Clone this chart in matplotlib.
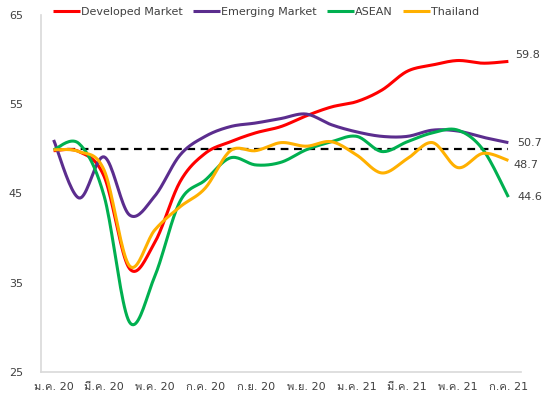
import matplotlib
matplotlib.use("Agg")
import matplotlib.pyplot as plt
from matplotlib import font_manager
from matplotlib.ft2font import FT2Font
import numpy as np

# look for an installed font that has thai glyphs
thai_family = None
for path in sorted(font_manager.findSystemFonts()):
    try:
        f = FT2Font(path)
        if f.get_char_index(0x0E01) and f.get_char_index(0x0E04):
            font_manager.fontManager.addfont(path)
            thai_family = font_manager.FontProperties(fname=path).get_name()
            break
    except Exception:
        continue
families = ['DejaVu Sans']
if thai_family:
    families = families + [thai_family]
plt.rcParams['font.family'] = families

months = ["ม.ค. 20", "ก.พ. 20", "มี.ค. 20", "เม.ย. 20", "พ.ค. 20", "มิ.ย. 20", "ก.ค. 20",
          "ส.ค. 20", "ก.ย. 20", "ต.ค. 20", "พ.ย. 20", "ธ.ค. 20", "ม.ค. 21", "ก.พ. 21",
          "มี.ค. 21", "เม.ย. 21", "พ.ค. 21", "มิ.ย. 21", "ก.ค. 21"]
developed = [49.8, 49.7, 46.9, 36.6, 39.5, 46.3, 49.5, 50.8, 51.8, 52.5, 53.7,
             54.7, 55.3, 56.6, 58.7, 59.4, 59.9, 59.6, 59.8]
emerging = [51.0, 44.5, 49.1, 42.6, 44.7, 49.3, 51.4, 52.5, 52.9, 53.4, 53.9,
            52.7, 51.9, 51.4, 51.4, 52.1, 52.0, 51.3, 50.7]
asean = [49.9, 50.6, 44.7, 30.6, 35.7, 44.1, 46.5, 49.0, 48.2, 48.5, 49.9,
         50.8, 51.4, 49.7, 50.8, 51.8, 52.1, 49.9, 44.6]
thailand = [49.9, 49.7, 47.6, 36.9, 40.9, 43.5, 45.6, 49.8, 49.8, 50.7, 50.3,
            50.8, 49.3, 47.3, 48.9, 50.7, 47.9, 49.5, 48.7]
threshold = 50
yticks = [25, 35, 45, 55, 65]


def smooth(x, y, n=20):
    # excel-style smoothed line (catmull-rom bezier)
    x = np.asarray(x, float)
    y = np.asarray(y, float)
    px = np.concatenate([[x[0]], x, [x[-1]]])
    py = np.concatenate([[y[0]], y, [y[-1]]])
    xs, ys = [], []
    t = np.linspace(0, 1, n, endpoint=False)
    for i in range(1, len(px) - 2):
        p0 = np.array([px[i], py[i]])
        p3 = np.array([px[i + 1], py[i + 1]])
        c1 = p0 + (np.array([px[i + 1], py[i + 1]]) - np.array([px[i - 1], py[i - 1]])) / 6
        c2 = p3 - (np.array([px[i + 2], py[i + 2]]) - np.array([px[i], py[i]])) / 6
        b = ((1 - t) ** 3)[:, None] * p0 + (3 * (1 - t) ** 2 * t)[:, None] * c1 \
            + (3 * (1 - t) * t ** 2)[:, None] * c2 + (t ** 3)[:, None] * p3
        xs.extend(b[:, 0])
        ys.extend(b[:, 1])
    xs.append(x[-1])
    ys.append(y[-1])
    return xs, ys


fig = plt.figure(figsize=(5.43, 4.05), dpi=100)
ax = fig.add_axes([41 / 543, 1 - 372 / 405, 480 / 543, 357 / 405])

x = np.arange(len(months))
ax.plot([x[0], x[-1]], [threshold, threshold], color="black", ls=(0, (3.5, 2.5)), lw=1.6, zorder=1)

series = [("Developed Market", developed, "#FF0000"),
          ("Emerging Market", emerging, "#5B2D8E"),
          ("ASEAN", asean, "#00B050"),
          ("Thailand", thailand, "#FFB000")]
handles = []
for name, vals, col in series:
    sx, sy = smooth(x, vals)
    l, = ax.plot(sx, sy, color=col, lw=2.2, label=name, solid_capstyle="butt", zorder=2)
    handles.append(l)

offsets = {"Developed Market": (7, 6), "Emerging Market": (9, 0),
           "ASEAN": (9, 0), "Thailand": (5, -5)}
for name, vals, col in series:
    ax.annotate(f"{vals[-1]:.1f}", (x[-1], vals[-1]), xytext=offsets[name],
                textcoords="offset pixels", va="center", ha="left", fontsize=8, color="#404040")

ax.set_xlim(-0.5, 18.5)
ax.set_ylim(25, 65)
ax.set_yticks(yticks)
ax.set_xticks(x[::2])
ax.set_xticklabels(months[::2])
ax.tick_params(length=0, labelsize=8, colors="#404040")
ax.tick_params(axis="y", pad=13)
ax.tick_params(axis="x", pad=7)
for s in ["top", "right"]:
    ax.spines[s].set_visible(False)
for s in ["left", "bottom"]:
    ax.spines[s].set_color("#D9D9D9")
    ax.spines[s].set_linewidth(1.2)

fig.legend(handles=handles, loc="center", bbox_to_anchor=(266 / 543, 1 - 12 / 405), ncol=4,
           frameon=False, fontsize=8, handlelength=2.4, handletextpad=0.1, columnspacing=0.95,
           labelcolor="#404040")

fig.savefig("out.png", dpi=100)
